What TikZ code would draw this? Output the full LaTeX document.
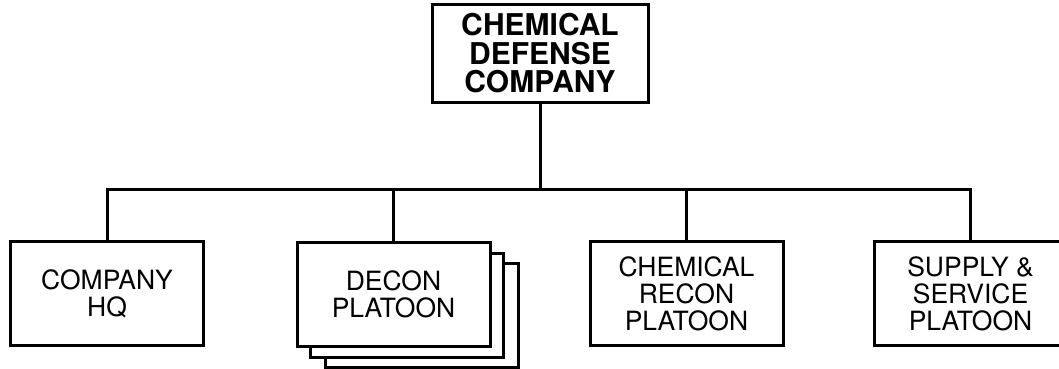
\documentclass[tikz,border=0pt]{standalone}
\usepackage{fontspec}
\setmainfont{TeX Gyre Heros}
\usepackage{tikz}
\usetikzlibrary{positioning, calc}

\begin{document}
\begin{tikzpicture}[
  x=1pt, y=-1pt,
  unit/.style={rectangle, draw=black, line width=3pt, minimum width=193pt, minimum height=104pt, align=center, inner sep=0pt, font=\fontsize{26.5}{27}\selectfont},
  head/.style={unit, minimum width=216pt, minimum height=97pt, font=\bfseries\fontsize{30}{28.5}\selectfont},
  stack/.style={unit, fill=white},
  line/.style={draw=black, line width=3pt}
]

\clip (0,0) rectangle (1059,369);

% === COMANDO ===
\node[head] (company) at (540,53.5) {CHEMICAL\\DEFENSE\\COMPANY};
\coordinate (bus) at (540,189);

% === PLOTONI ===
\node[unit] (hq) at (107,293.5) {COMPANY\\HQ};

\coordinate (deconpos) at (393.5,294.5);
\node[stack] (deconC) at ($(deconpos)+(28,21)$) {};
\node[stack] (deconB) at ($(deconpos)+(13,11)$) {};
\node[stack] (decon) at (deconpos) {DECON\\PLATOON};

\node[unit] (recon) at (686.5,293.5) {CHEMICAL\\RECON\\PLATOON};
\node[unit] (supply) at (970.5,293.5) {SUPPLY \&\\SERVICE\\PLATOON};

% === COLLEGAMENTI ===
\draw[line] (company.south) -- (bus);
\draw[line] (hq.north) |- (supply.north |- bus) -- (supply.north);
\draw[line] (decon.north) -- (decon.north |- bus);
\draw[line] (recon.north) -- (recon.north |- bus);

\end{tikzpicture}
\end{document}
